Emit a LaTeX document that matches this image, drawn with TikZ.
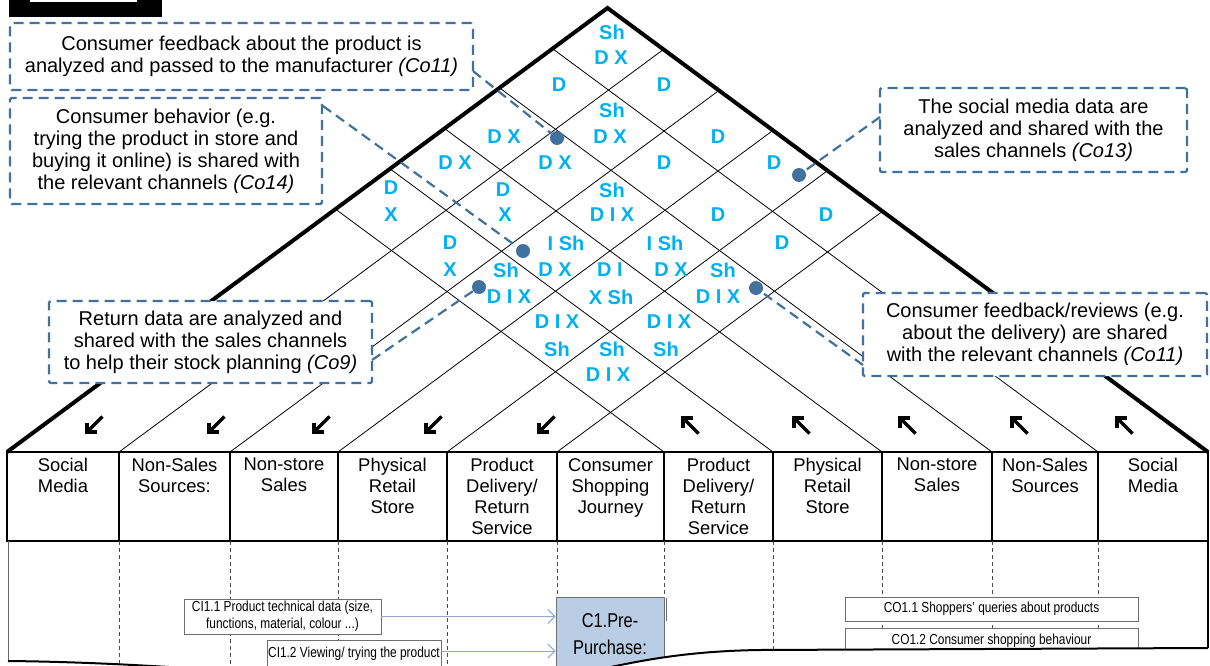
\documentclass[tikz,border=0pt]{standalone}
\usepackage{fontspec}
\setmainfont{Liberation Sans}
\newfontfamily\narrowfont[FakeStretch=0.82]{Liberation Sans}
\usetikzlibrary{arrows.meta}
\definecolor{callblue}{HTML}{41719C}
\definecolor{labcyan}{HTML}{00B0F0}
\definecolor{prefill}{HTML}{B9CDE5}
\definecolor{flowblue}{HTML}{8EAACB}
\definecolor{boxgray}{HTML}{6F6F6F}
\tikzset{
 swarr/.pic={\draw[line width=3.2pt] (8.5,-8.5) -- (-6.5,6.5);
             \draw[line width=3.2pt, line join=miter] (-7,-2.5) -- (-7,7) -- (2.5,7);},
 nwarr/.pic={\draw[line width=3.2pt] (8.5,8.5) -- (-6.5,-6.5);
             \draw[line width=3.2pt, line join=miter] (-7,2.5) -- (-7,-7) -- (2.5,-7);}
}
\begin{document}
\begin{tikzpicture}[x=1pt,y=-1pt,
 gridline/.style={line width=0.8pt},
 roofline/.style={line width=4pt, line join=miter},
 hdrline/.style={line width=2.8pt},
 hdrtext/.style={anchor=north, inner sep=0pt, align=center, font=\fontsize{18.4}{21}\selectfont},
 lab/.style={inner sep=0pt, text=labcyan, font=\bfseries\fontsize{20}{24}\selectfont},
 callout/.style={draw=callblue, line width=2.2pt, dash pattern=on 10pt off 6pt, fill=white, rounded corners=1.5pt, inner sep=0pt, align=center, font=\fontsize{20}{22}\selectfont},
 conn/.style={draw=callblue, line width=2.2pt, dash pattern=on 10pt off 6pt},
 dot/.style={circle, fill=callblue, minimum size=14pt, inner sep=0pt},
 colsep/.style={draw=black!70, line width=0.7pt, dash pattern=on 4pt off 3pt},
 flowbox/.style={draw=boxgray, line width=0.9pt, fill=white, inner sep=0pt, align=center, font=\narrowfont\fontsize{14.5}{17}\selectfont},
 flow/.style={draw=flowblue, line width=1pt, -{Straight Barb[length=7pt,width=14pt]}}
]
\useasboundingbox (0,0) rectangle (1210,666);

% top-left black banner
\fill[black] (9,0) rectangle (162,17);
\fill[white] (30,0) rectangle (137,2);

% roof grid
\foreach \bx in {119,230,338,447,557}
  \draw[gridline] (\bx,452) -- ({(\bx+1208)/2},{452-0.7394*(1208-\bx)/2});
\foreach \bx in {664,773,882,992,1098}
  \draw[gridline] (\bx,452) -- ({(\bx+7)/2},{452-0.7394*(\bx-7)/2});
\draw[roofline] (7,452) -- (607.5,8) -- (1208,452);

% header
\draw[hdrline] (7,452) rectangle (1208,541);
\foreach \x in {119,230,338,447,557,664,773,882,992,1098}
  \draw[hdrline] (\x,452) -- (\x,541);
\foreach \cx/\t [count=\i] in {63/{Social\\Media}, 174.5/{Non-Sales\\Sources:}, 284/{Non-store\\Sales},
   392.5/{Physical\\Retail\\Store}, 502/{Product\\Delivery/\\Return\\Service}, 610.5/{Consumer\\Shopping\\Journey},
   718.5/{Product\\Delivery/\\Return\\Service}, 827.5/{Physical\\Retail\\Store}, 937/{Non-store\\Sales},
   1045/{Non-Sales\\Sources}, 1153/{Social\\Media}}
  \node[hdrtext] (h\i) at (\cx,458) {\t};

% direction arrows
\foreach \x in {94,216,321,433,546} \pic at (\x,425) {swarr};
\foreach \x in {690,801,907,1019,1124} \pic at (\x,425) {nwarr};

% cell labels
\foreach \x/\y/\t [count=\i] in {612/32/Sh, 611/58/D X, 559/85/D, 664/85/D, 612/110/Sh,
   504/137/D X, 610/137/D X, 718/137/D, 455/163/D X, 555/163/D X, 664/163/D, 774/163/D,
   391/188/D, 391/215/X, 503/190/D, 505/215/X, 612/190/Sh, 612/215/D I X, 718/215/D, 826/215/D,
   450/243/D, 450/270/X, 566/243/I Sh, 555/270/D X, 665/243/I Sh, 671/270/D X, 782/243/D,
   506/270/Sh, 509/297/D I X, 610/270/D I, 611/297/X Sh, 723/270/Sh, 718/297/D I X,
   557/322/D I X, 557/349/Sh, 669/322/D I X, 666/349/Sh, 612/349/Sh, 608/375/D I X}
  \node[lab] (lab\i) at (\x,\y) {\t};

% lower section
\foreach \x in {119,230,338,447,557,664,773,882,992,1098}
  \draw[colsep] (\x,541) -- (\x,680);

\node[flowbox, minimum width=197pt, minimum height=35pt] (ci1) at (282.5,616.5)
  {CI1.1 Product technical data (size,\\functions, material, colour ...)};
\node[flowbox, minimum width=174pt, minimum height=28pt] (ci2) at (354,654)
  {CI1.2 Viewing/ trying the product};
\node[draw=boxgray, line width=0.9pt, fill=prefill, minimum width=108pt, minimum height=103pt, inner sep=0pt] (pre) at (610,648.5) {};
\node[inner sep=0pt, align=center, font=\narrowfont\fontsize{20}{27}\selectfont] (pretext) at (610,634.5) {C1.Pre-\\Purchase:};
\draw[boxgray, line width=0.9pt] (666,598) -- (666,621);
\draw[flow] (ci1.east) -- (ci1.east -| pre.west);
\draw[flow] ([yshift=3pt]ci2.east) -- ([yshift=3pt]ci2.east -| pre.west);
\node[flowbox, minimum width=293pt, minimum height=24pt] (co11) at (991.5,609)
  {CO1.1 Shoppers’ queries about products};
\node[flowbox, minimum width=293pt, minimum height=26pt] (co12) at (991.5,641)
  {CO1.2 Consumer shopping behaviour};

% document-shaped bottom edge
\fill[white] (8,661) .. controls (200,663) and (350,685) .. (480,685)
   .. controls (580,685) and (620,652) .. (760,650) -- (1208,648) -- (1212,648) -- (1212,700) -- (8,700) -- cycle;
\draw[black!60, line width=1pt] (8,541) -- (8,661);
\draw[line width=2pt] (8,661) .. controls (200,663) and (350,685) .. (480,685)
   .. controls (580,685) and (620,652) .. (760,650) -- (1208,648);
\draw[line width=1.2pt] (1208,541) -- (1208,648);

% callouts
\node[callout, minimum width=463pt, minimum height=67pt] (co1) at (241.5,56.5)
  {Consumer feedback about the product is\\analyzed and passed to the manufacturer \textit{(Co11)}};
\node[callout, minimum width=312pt, minimum height=106pt] (co2) at (166,151)
  {Consumer behavior (e.g.\\trying the product in store and\\buying it online) is shared with\\the relevant channels \textit{(Co14)}};
\node[callout, minimum width=307pt, minimum height=84pt] (co3) at (1033.5,130)
  {The social media data are\\analyzed and shared with the\\sales channels \textit{(Co13)}};
\node[callout, minimum width=323pt, minimum height=82pt] (co4) at (210.5,342)
  {Return data are analyzed and\\shared with the sales channels\\to help their stock planning \textit{(Co9)}};
\node[callout, minimum width=344pt, minimum height=83pt] (co5) at (1035,334.5)
  {Consumer feedback/reviews (e.g.\\about the delivery) are shared\\with the relevant channels \textit{(Co11)}};

\node[dot] (d1) at (557,138) {};
\node[dot] (d2) at (523,251) {};
\node[dot] (d3) at (799,175) {};
\node[dot] (d4) at (479,287) {};
\node[dot] (d5) at (756,288) {};
\coordinate (e1) at (473,71);
\coordinate (e2) at (323,106);
\coordinate (e3) at (880,117);
\coordinate (e4) at (372,360);
\coordinate (e5) at (863,365);
\foreach \i in {1,...,5} \draw[conn] (e\i) -- (d\i);
\end{tikzpicture}
\end{document}
